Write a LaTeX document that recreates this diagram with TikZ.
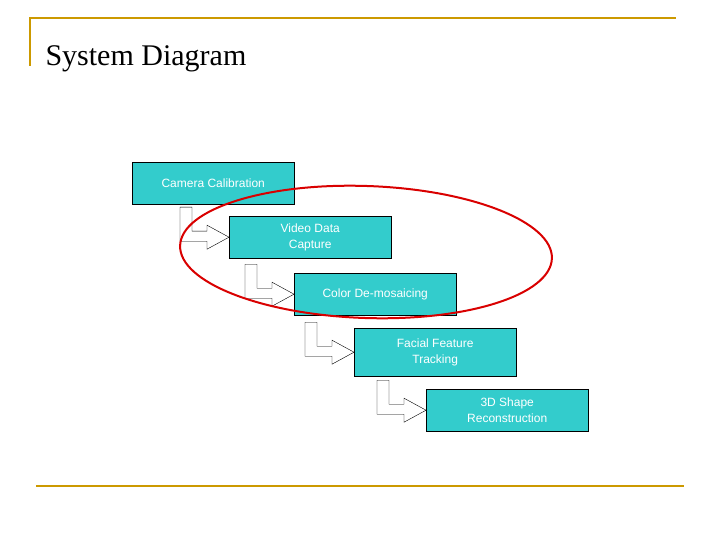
\documentclass[tikz,border=0pt]{standalone}
\usepackage{fontspec}
\setmainfont{Liberation Serif}
\newfontfamily\boxfont{Liberation Sans}
\usetikzlibrary{positioning}
\definecolor{stepcyan}{RGB}{51,204,204}
\definecolor{rulegold}{RGB}{204,153,0}
\newcommand{\stepbend}[1]{%
	\draw[thin, fill=white] ([shift={(-49,-30)}]#1.west) -- ++(12,0) -- ++(0,24)
		-- ++(15,0) -- ++(0,-6) -- (#1.west) -- ++(-22,12) -- ++(0,-8)
		-- ++(-27,0) -- cycle;}
\begin{document}
\begin{tikzpicture}[x=1pt, y=-1pt,
	stage/.style={draw=black, fill=stepcyan, text=white, font=\boxfont\fontsize{12}{16}\selectfont,
		minimum width=162pt, minimum height=42pt, align=center, inner sep=1pt, anchor=north west}]
	\useasboundingbox (0,0) rectangle (720,540);
	% slide frame
	\draw[rulegold, line width=2pt] (30,66) -- (30,18) -- (676,18);
	\draw[rulegold, line width=2pt] (36,486) -- (684,486);
	\node[anchor=base west, font=\fontsize{30}{36}\selectfont] (title) at (42,66) {System Diagram};

	% pipeline stages
	\node[stage] (calib) at (132,162) {Camera Calibration};
	\node[stage] (video) at (229,216) {Video Data\\Capture};
	\node[stage] (demosaic) at (294,273) {Color De-mosaicing};
	\node[stage, minimum height=48pt] (facial) at (354,328) {Facial Feature\\Tracking};
	\node[stage] (shape) at (426,389) {3D Shape\\Reconstruction};

	\stepbend{video}
	\stepbend{demosaic}
	\stepbend{facial}
	\stepbend{shape}

	% highlighted part
	\draw[red!85!black, line width=2pt, rotate around={-2:(366,252)}] (366,252) ellipse[x radius=186, y radius=66];
\end{tikzpicture}
\end{document}
